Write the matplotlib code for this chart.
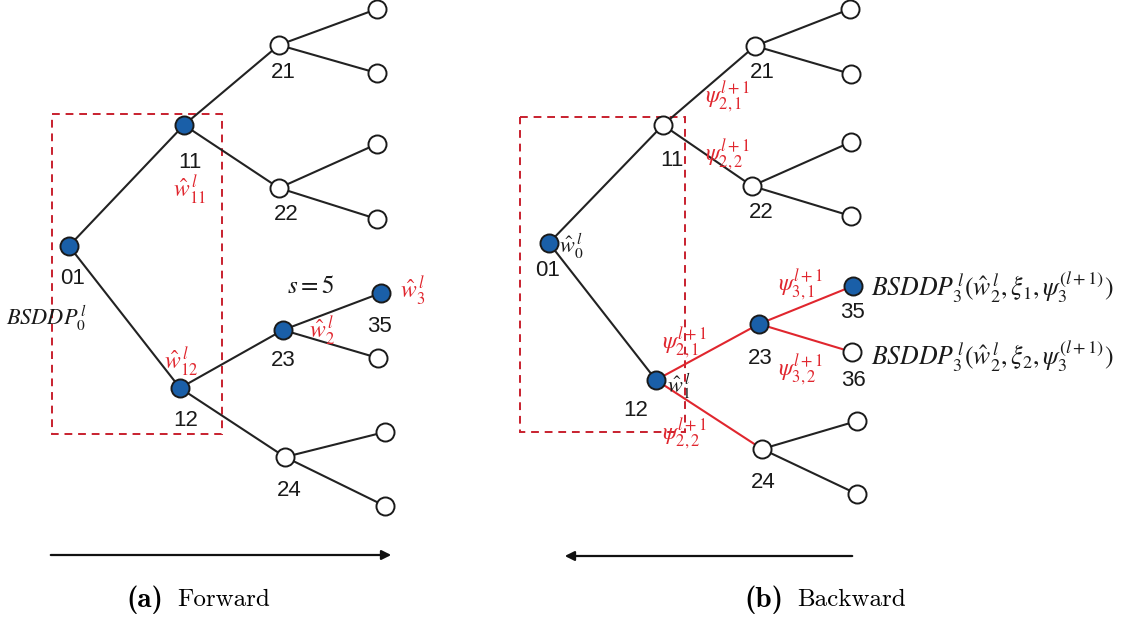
import matplotlib
matplotlib.use("Agg")
import matplotlib.pyplot as plt
from matplotlib.patches import Rectangle, FancyArrowPatch

plt.rcParams['mathtext.fontset'] = 'stix'

# ---------------- data: tree nodes (name, x, y) ----------------
left_names = ["01", "11", "12", "21", "22", "23", "24",
              "L1", "L2", "L3", "L4", "35", "L6", "L7", "L8"]
left_x = [69, 184, 180, 279, 279, 283, 285, 377, 377, 377, 377, 381, 378, 385, 385]
left_y = [246, 125, 388, 45, 188, 330, 457, 9, 73, 144, 219, 293, 358, 432, 506]
left_filled = ["01", "11", "12", "23", "35"]
left_edges = [("01", "11"), ("01", "12"), ("11", "21"), ("11", "22"), ("12", "23"), ("12", "24"),
              ("21", "L1"), ("21", "L2"), ("22", "L3"), ("22", "L4"), ("23", "35"), ("23", "L6"),
              ("24", "L7"), ("24", "L8")]

right_names = ["01", "11", "12", "21", "22", "23", "24",
               "L1", "L2", "L3", "L4", "35", "36", "L7", "L8"]
right_x = [549, 663, 656, 755, 752, 759, 762, 850, 851, 851, 851, 853, 852, 857, 857]
right_y = [243, 125, 380, 46, 186, 324, 449, 9, 74, 142, 216, 286, 352, 421, 494]
right_filled = ["01", "12", "23", "35"]
right_edges = [("01", "11"), ("01", "12"), ("11", "21"), ("11", "22"), ("12", "23"), ("12", "24"),
               ("21", "L1"), ("21", "L2"), ("22", "L3"), ("22", "L4"), ("23", "35"), ("23", "36"),
               ("24", "L7"), ("24", "L8")]
right_red_edges = [("12", "23"), ("12", "24"), ("23", "35"), ("23", "36")]

BLUE = "#1a5fa8"
RED = "#e0262e"
DRED = "#c8202e"
INK = "#1a1a1a"

fig = plt.figure(figsize=(11.26, 6.19), dpi=100)
ax = fig.add_axes([0, 0, 1, 1])
ax.set_xlim(0, 1126)
ax.set_ylim(619, 0)
ax.axis("off")


def draw_tree(names, xs, ys, edges, filled, red_edges=()):
    pos = {n: (x, y) for n, x, y in zip(names, xs, ys)}
    for a, b in edges:
        col = RED if (a, b) in red_edges else "#222222"
        ax.plot([pos[a][0], pos[b][0]], [pos[a][1], pos[b][1]], color=col, lw=1.5, zorder=2)
    for n in names:
        fc = BLUE if n in filled else "white"
        ax.plot(*pos[n], marker="o", ms=13, mfc=fc, mec=INK, mew=1.4, zorder=4)
    return pos


draw_tree(left_names, left_x, left_y, left_edges, left_filled)
draw_tree(right_names, right_x, right_y, right_edges, right_filled, right_red_edges)

# dashed rectangles
ax.add_patch(Rectangle((52, 114), 170, 320, fill=False, ec=DRED, ls=(0, (4, 3)), lw=1.4, zorder=1))
ax.add_patch(Rectangle((520, 117), 165, 315, fill=False, ec=DRED, ls=(0, (4, 3)), lw=1.4, zorder=1))

# node labels
lab_font = dict(fontsize=16, family="Liberation Sans", color=INK, ha="center", va="center")
left_labels = [("01", 73, 278), ("11", 190, 162), ("12", 186, 420), ("21", 283, 73),
               ("22", 286, 214), ("23", 283, 361), ("24", 289, 491), ("35", 379, 327)]
for t, x, y in left_labels:
    ax.text(x, y, t, **lab_font)
right_labels = [("01", 548, 271), ("11", 672, 160), ("12", 636, 411), ("21", 762, 73),
                ("22", 761, 213), ("23", 760, 358), ("24", 763, 483), ("35", 852, 313),
                ("36", 853, 380)]
for t, x, y in right_labels:
    ax.text(x, y, t, **lab_font)

mfs = 17
# left math labels
ax.text(189, 190, r"$\hat{w}^{\,l}_{11}$", color=RED, fontsize=mfs, ha="center", va="center")
ax.text(181, 362, r"$\hat{w}^{\,l}_{12}$", color=RED, fontsize=mfs, ha="center", va="center")
ax.text(322, 331, r"$\hat{w}^{\,l}_{2}$", color=RED, fontsize=mfs, ha="center", va="center")
ax.text(400, 291, r"$\hat{w}^{\,l}_{3}$", color=RED, fontsize=mfs, ha="left", va="center")
ax.text(310, 286, r"$s=5$", color=INK, fontsize=18, ha="center", va="center")
ax.text(47, 318, r"$BSDDP_0^{\,l}$", color=INK, fontsize=16, ha="center", va="center")

# right math labels
ax.text(559, 246, r"$\hat{w}^{\,l}_{0}$", color=INK, fontsize=16, ha="left", va="center")
ax.text(667, 386, r"$\hat{w}^{\,l}_{1}$", color=INK, fontsize=16, ha="left", va="center")
psi = [(r"$\psi^{l+1}_{2,1}$", 727, 97), (r"$\psi^{l+1}_{2,2}$", 727, 155),
       (r"$\psi^{l+1}_{3,1}$", 800, 285), (r"$\psi^{l+1}_{2,1}$", 684, 343),
       (r"$\psi^{l+1}_{3,2}$", 800, 370), (r"$\psi^{l+1}_{2,2}$", 684, 434)]
for t, x, y in psi:
    ax.text(x, y, t, color=RED, fontsize=mfs, ha="center", va="center")
ax.text(871, 287, r"$BSDDP_3^{\,l}(\hat{w}^{\,l}_2,\xi_1,\psi_3^{(l+1)})$", color=INK,
        fontsize=18.5, ha="left", va="center")
ax.text(871, 356, r"$BSDDP_3^{\,l}(\hat{w}^{\,l}_2,\xi_2,\psi_3^{(l+1)})$", color=INK,
        fontsize=18.5, ha="left", va="center")

# arrows
ax.add_patch(FancyArrowPatch((48, 555), (394, 555), arrowstyle="-|>", mutation_scale=14,
                             color="#111111", lw=1.6))
ax.add_patch(FancyArrowPatch((855, 556), (562, 556), arrowstyle="-|>", mutation_scale=14,
                             color="#111111", lw=1.6))

# captions
ax.text(126, 600, "(a)", family="cmb10", fontsize=21, ha="left", va="center")
ax.text(177, 600, "Forward", family="cmr10", fontsize=18, ha="left", va="center")
ax.text(744, 600, "(b)", family="cmb10", fontsize=21, ha="left", va="center")
ax.text(797, 600, "Backward", family="cmr10", fontsize=18, ha="left", va="center")

fig.savefig("out.png", dpi=100)
